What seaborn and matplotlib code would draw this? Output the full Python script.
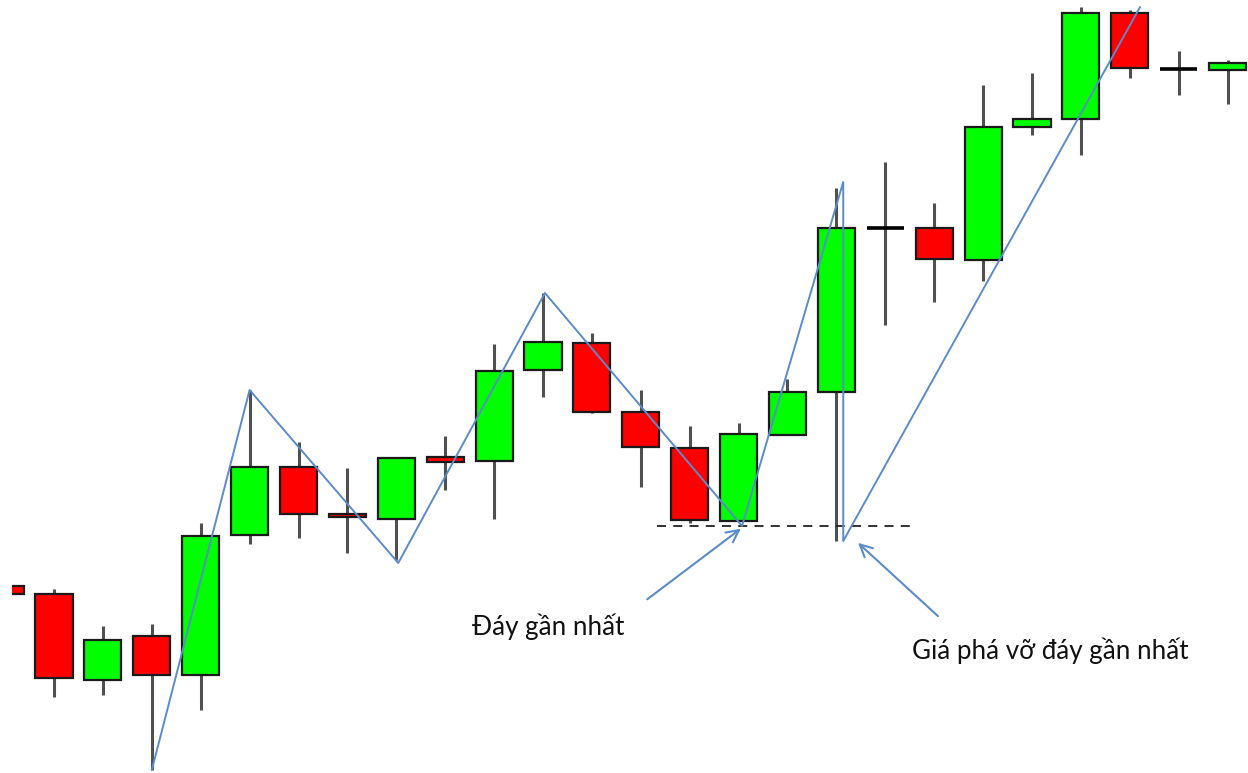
import matplotlib
matplotlib.use("Agg")
import matplotlib.pyplot as plt
import numpy as np
import pandas as pd
import seaborn as sns

# ---- data (price units; higher = up) ----
idx = list(range(26))
opens  = [187, 179,  93, 137,  98, 238, 306, 259, 254, 316, 312, 403, 430, 361, 325, 252, 338, 381, 545, 545, 513, 646, 654, 760, 704, 703]
highs  = [187, 184, 147, 149, 250, 383, 331, 305, 316, 337, 429, 480, 440, 383, 347, 350, 394, 585, 611, 570, 688, 700, 766, 763, 722, 713]
lows   = [179,  76,  78,   3,  63, 229, 235, 220, 213, 283, 254, 376, 360, 286, 250, 252, 338, 232, 448, 471, 492, 638, 618, 695, 678, 669]
closes = [179,  95, 133,  98, 237, 306, 259, 256, 315, 311, 402, 431, 361, 326, 253, 339, 381, 545, 545, 514, 646, 654, 760, 705, 704, 710]

zig_x = [3.0, 5.0, 8.04, 11.04, 15.07, 17.14, 17.14, 23.21]
zig_y = [3, 383, 210, 480, 247, 591, 232, 766]

support_level = 247
support_from, support_to = 13.33, 18.61

label_bottom = "Đáy gần nhất"
label_break = "Giá phá vỡ đáy gần nhất"

# ---- style ----
sns.set_style("white")
plt.rcParams['font.family'] = ['Lato', 'DejaVu Sans']

W, H = 1248, 773
fig = plt.figure(figsize=(W / 100, H / 100), dpi=100)
ax = fig.add_axes([12 / W, 0, 1 - 12 / W, 1])

x0px, step = 5.1, 48.9
ax.set_xlim((12 - x0px) / step, (W - x0px) / step)
ax.set_ylim(0, H)
ax.axis("off")

blue = "#5B8BC9"
bw = 0.76

df = pd.DataFrame({"i": idx, "o": opens, "h": highs, "l": lows, "c": closes})

# wicks
ax.vlines(df["i"], df["l"], df["h"], color="#505050", lw=2.2, zorder=1)

# bodies
for _, r in df.iterrows():
    if r["o"] == r["c"]:
        ax.hlines(r["o"], r["i"] - bw / 2, r["i"] + bw / 2, color="black", lw=2.6, zorder=2)
        continue
    up = r["c"] > r["o"]
    ax.bar(r["i"], abs(r["c"] - r["o"]), bottom=min(r["o"], r["c"]), width=bw,
           color="#00FF00" if up else "#FF0000", edgecolor="#1a1a1a", linewidth=1.6, zorder=2)

# support dashed line
ax.hlines(support_level, support_from, support_to, color="#222222", lw=1.3,
          linestyles=(0, (5, 4)), zorder=2)

# zigzag
zz = pd.DataFrame({"x": zig_x, "y": zig_y})
sns.lineplot(data=zz, x="x", y="y", sort=False, estimator=None, color=blue, lw=1.4, ax=ax, zorder=3)
ax.set_xlabel("")
ax.set_ylabel("")

def px(xp):
    return (xp - x0px) / step

def py(yp):
    return H - yp

# arrows
ax.annotate("", xy=(px(743), py(527)), xytext=(px(645), py(601)),
            arrowprops=dict(arrowstyle="->", color=blue, lw=1.5, mutation_scale=22), zorder=4)
ax.annotate("", xy=(px(856), py(541)), xytext=(px(940), py(618)),
            arrowprops=dict(arrowstyle="->", color=blue, lw=1.5, mutation_scale=22), zorder=4)

# labels
ax.text(px(472), py(627), label_bottom, fontsize=18.7, color="#111111", ha="left", va="center")
ax.text(px(912), py(651), label_break, fontsize=18.7, color="#111111", ha="left", va="center")

fig.savefig("out.png", dpi=100, facecolor="white")
